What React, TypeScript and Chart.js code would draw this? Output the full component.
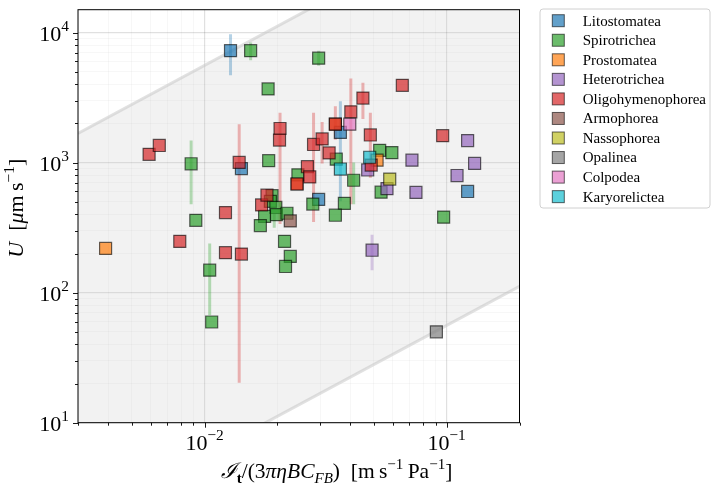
import React, { useEffect, useRef } from 'react';
import { Chart, registerables } from 'chart.js';

Chart.register(...registerables);

const FONT = '"Liberation Serif", "DejaVu Serif", serif';

const classNames = [
  'Litostomatea', 'Spirotrichea', 'Prostomatea', 'Heterotrichea', 'Oligohymenophorea',
  'Armophorea', 'Nassophorea', 'Opalinea', 'Colpodea', 'Karyorelictea',
];
const classRGB = [
  '31,119,180', '44,160,44', '255,127,14', '148,103,189', '214,39,40',
  '140,86,75', '188,189,34', '127,127,127', '227,119,194', '23,190,207',
];

// Litostomatea
const litostomateaX = [0.0128, 0.0142, 0.0364, 0.0296, 0.1221];
const litostomateaY = [7260, 900, 1707, 521, 600];
// Spirotrichea
const spirotricheaX = [0.0155, 0.0296, 0.0183, 0.0088, 0.0184, 0.0243, 0.0190, 0.0187, 0.0197, 0.0177,
  0.0198, 0.0219, 0.0170, 0.0092, 0.0105, 0.0107, 0.0214, 0.0226, 0.0216, 0.0280,
  0.0378, 0.0347, 0.0350, 0.0413, 0.0529, 0.0594, 0.0536, 0.0972];
const spirotricheaY = [7260, 6360, 3690, 980, 1035, 805, 557, 504, 452, 386,
  398, 408, 328, 360, 149, 59.5, 248, 190, 159, 480,
  486, 394, 1063, 732, 1243, 1194, 593, 381];
// Prostomatea
const prostomateaX = [0.0039, 0.0516, 0.0347, 0.0241];
const prostomateaY = [219, 1044, 1975, 685];
// Heterotrichea
const heterotricheaX = [0.0472, 0.0567, 0.0719, 0.0747, 0.1104, 0.1221, 0.1305, 0.0492];
const heterotricheaY = [878, 631, 1044, 590, 796, 1478, 986, 212];
// Oligohymenophorea
const oligohymenophoreaX = [0.0059, 0.0065, 0.0079, 0.0122, 0.0122, 0.0142, 0.0139, 0.0205, 0.0204, 0.0172,
  0.0181, 0.0241, 0.0266, 0.0272, 0.0282, 0.0306, 0.0327, 0.0347, 0.0402, 0.0451,
  0.0484, 0.0488, 0.0656, 0.0963];
const oligohymenophoreaY = [1159, 1355, 248, 413, 203, 198, 1003, 1830, 1491, 473,
  562, 685, 930, 777, 1379, 1522, 1188, 1975, 2458, 3135,
  1632, 957, 3929, 1612];
// Armophorea
const armophoreaX = [0.0226];
const armophoreaY = [356];
// Nassophorea
const nassophoreaX = [0.0582];
const nassophoreaY = [747];
// Opalinea
const opalineaX = [0.0907];
const opalineaY = [50];
// Colpodea
const colpodeaX = [0.0398];
const colpodeaY = [1975];
// Karyorelictea
const karyorelicteaX = [0.0364, 0.0481];
const karyorelicteaY = [893, 1100];

const seriesX = [litostomateaX, spirotricheaX, prostomateaX, heterotricheaX, oligohymenophoreaX,
  armophoreaX, nassophoreaX, opalineaX, colpodeaX, karyorelicteaX];
const seriesY = [litostomateaY, spirotricheaY, prostomateaY, heterotricheaY, oligohymenophoreaY,
  armophoreaY, nassophoreaY, opalineaY, colpodeaY, karyorelicteaY];

// Error bars (vertical ranges)
const errX = [0.0128, 0.0155, 0.0296, 0.0088, 0.0105, 0.0413, 0.0194, 0.0492, 0.0139, 0.0205,
  0.0282, 0.0306, 0.0347, 0.0402, 0.0451, 0.0484, 0.0364];
const errLo = [4706, 6138, 5550, 478, 67, 478, 315, 149, 20.3, 338,
  350, 986, 1500, 478, 2166, 764, 504];
const errHi = [9692, 8390, 7250, 1478, 239, 1003, 402, 279, 1975, 2424,
  2424, 2056, 2716, 4436, 4118, 2424, 2960];
const errClass = [0, 1, 1, 1, 1, 1, 1, 3, 4, 4,
  4, 4, 4, 4, 4, 4, 0];

// Shaded band bounds
const boundX = [0.003, 0.2];
const upperBoundY = [1680, 112000];
const lowerBoundY = [1.68, 112];

// Axes
const xMin = 0.003, xMax = 0.2;
const yMin = 10, yMax = 15000;
const xMajorTicks = [0.01, 0.1];
const xMajorLabels = [['10', '−2'], ['10', '−1']];
const yMajorTicks = [10, 100, 1000, 10000];
const yMajorLabels = [['10', '1'], ['10', '2'], ['10', '3'], ['10', '4']];

function logTicks(min: number, max: number) {
  const out: number[] = [];
  for (let e = Math.floor(Math.log10(min)); e <= Math.ceil(Math.log10(max)); e++) {
    for (let k = 1; k <= 9; k++) {
      const v = parseFloat((k * Math.pow(10, e)).toPrecision(4));
      if (v >= min * 0.9999 && v <= max * 1.0001) out.push(v);
    }
  }
  return out;
}
const isMajorVal = (v: number) => Math.abs(Math.log10(v) - Math.round(Math.log10(v))) < 1e-6;

type Seg = { t: string; it?: boolean; b?: boolean; sub?: boolean; sup?: boolean };

function segFont(s: Seg, size: number) {
  const sz = s.sub || s.sup ? size * 0.7 : size;
  return `${s.it ? 'italic ' : ''}${s.b ? 'bold ' : ''}${sz}px ${FONT}`;
}
function drawRich(ctx: CanvasRenderingContext2D, segs: Seg[], x: number, y: number, size: number, align: string) {
  let total = 0;
  segs.forEach((s) => { ctx.font = segFont(s, size); total += ctx.measureText(s.t).width; });
  let cx = align === 'center' ? x - total / 2 : align === 'right' ? x - total : x;
  ctx.textAlign = 'left';
  ctx.textBaseline = 'alphabetic';
  segs.forEach((s) => {
    ctx.font = segFont(s, size);
    const dy = s.sup ? -size * 0.42 : s.sub ? size * 0.22 : 0;
    ctx.fillText(s.t, cx, y + dy);
    cx += ctx.measureText(s.t).width;
  });
  return total;
}

const xTitle: Seg[] = [
  { t: 'ℐ', it: true }, { t: 't', b: true, sub: true }, { t: '/(3' }, { t: 'πηBC', it: true },
  { t: 'FB', it: true, sub: true }, { t: ')  [m\u2009s' }, { t: '−1', sup: true }, { t: '\u2009Pa' }, { t: '−1', sup: true }, { t: ']' },
];
const yTitle: Seg[] = [
  { t: 'U', it: true }, { t: '  [' }, { t: 'μ', it: true }, { t: 'm\u2009s' }, { t: '−1', sup: true }, { t: ']' },
];

const customPlugin = {
  id: 'customDecor',
  beforeDatasetsDraw(chart: any) { chart.$errDrawn = false; },
  beforeDatasetDraw(chart: any, args: any) {
    const ds = chart.data.datasets[args.index];
    if (ds.isBound || chart.$errDrawn) return;
    chart.$errDrawn = true;
    const ctx = chart.ctx as CanvasRenderingContext2D;
    const xs = chart.scales.x, ys = chart.scales.y, a = chart.chartArea;
    ctx.save();
    ctx.beginPath();
    ctx.rect(a.left, a.top, a.right - a.left, a.bottom - a.top);
    ctx.clip();
    ctx.lineWidth = 3;
    for (let i = 0; i < errX.length; i++) {
      const px = xs.getPixelForValue(errX[i]);
      ctx.strokeStyle = `rgba(${classRGB[errClass[i]]},0.33)`;
      ctx.beginPath();
      ctx.moveTo(px, ys.getPixelForValue(errLo[i]));
      ctx.lineTo(px, ys.getPixelForValue(errHi[i]));
      ctx.stroke();
    }
    ctx.restore();
  },
  afterDraw(chart: any) {
    const ctx = chart.ctx as CanvasRenderingContext2D;
    const xs = chart.scales.x, ys = chart.scales.y, a = chart.chartArea;
    ctx.save();
    // frame
    ctx.strokeStyle = '#000';
    ctx.lineWidth = 1;
    ctx.strokeRect(a.left, a.top, a.right - a.left, a.bottom - a.top);
    // tick marks
    ctx.beginPath();
    xs.ticks.forEach((t: any) => {
      const px = Math.round(xs.getPixelForValue(t.value)) + 0.5;
      const len = t.major ? 5 : 3;
      ctx.moveTo(px, a.bottom);
      ctx.lineTo(px, a.bottom + len);
    });
    ys.ticks.forEach((t: any) => {
      const py = Math.round(ys.getPixelForValue(t.value)) + 0.5;
      const len = t.major ? 5 : 3;
      ctx.moveTo(a.left, py);
      ctx.lineTo(a.left - len, py);
    });
    ctx.lineWidth = 0.9;
    ctx.stroke();
    ctx.fillStyle = '#000';
    // tick labels
    xMajorTicks.forEach((v, i) => {
      const px = xs.getPixelForValue(v);
      drawRich(ctx, [{ t: xMajorLabels[i][0] }, { t: xMajorLabels[i][1], sup: true }], px, a.bottom + 27, 22, 'center');
    });
    yMajorTicks.forEach((v, i) => {
      const py = ys.getPixelForValue(v);
      drawRich(ctx, [{ t: yMajorLabels[i][0] }, { t: yMajorLabels[i][1], sup: true }], a.left - 9, py + 8, 22, 'right');
    });
    // axis titles
    drawRich(ctx, xTitle, 336.5, 478, 21.5, 'center');
    ctx.save();
    ctx.translate(23, (a.top + a.bottom) / 2 - 8);
    ctx.rotate(-Math.PI / 2);
    drawRich(ctx, yTitle, 0, 0, 22, 'center');
    ctx.restore();
    // legend
    const lx = 540, ly = 9, lw = 170, lh = 199;
    ctx.beginPath();
    const r = 3;
    ctx.moveTo(lx + r, ly);
    ctx.arcTo(lx + lw, ly, lx + lw, ly + lh, r);
    ctx.arcTo(lx + lw, ly + lh, lx, ly + lh, r);
    ctx.arcTo(lx, ly + lh, lx, ly, r);
    ctx.arcTo(lx, ly, lx + lw, ly, r);
    ctx.closePath();
    ctx.fillStyle = 'rgba(255,255,255,0.85)';
    ctx.fill();
    ctx.strokeStyle = '#d0d0d0';
    ctx.lineWidth = 1;
    ctx.stroke();
    classNames.forEach((name, i) => {
      const cy = 20.7 + i * 19.55;
      ctx.fillStyle = `rgba(${classRGB[i]},0.7)`;
      ctx.fillRect(552.3, cy - 6, 12, 12);
      ctx.strokeStyle = 'rgba(0,0,0,0.6)';
      ctx.lineWidth = 1;
      ctx.strokeRect(552.3, cy - 6, 12, 12);
      ctx.fillStyle = '#000';
      ctx.font = `15px ${FONT}`;
      ctx.textAlign = 'left';
      ctx.textBaseline = 'middle';
      ctx.fillText(name, 582.7, cy + 1);
    });
    ctx.restore();
  },
};

export default function App() {
  const ref = useRef<HTMLCanvasElement | null>(null);
  useEffect(() => {
    if (!ref.current) return;
    const xTickVals = logTicks(xMin, xMax);
    const yTickVals = logTicks(yMin, yMax);
    const scatterSets = classNames.map((name, i) => ({
      type: 'scatter' as const,
      label: name,
      data: seriesX[i].map((x, j) => ({ x, y: seriesY[i][j] })),
      pointStyle: 'rect',
      pointRadius: 8.5,
      backgroundColor: `rgba(${classRGB[i]},0.7)`,
      borderColor: 'rgba(0,0,0,0.6)',
      borderWidth: 1.2,
      order: 20 - i,
    }));
    const bandColor = 'rgba(200,200,200,0.55)';
    const datasets: any[] = [
      ...scatterSets,
      {
        type: 'line', label: 'upper', isBound: true,
        data: boundX.map((x, j) => ({ x, y: upperBoundY[j] })),
        borderColor: bandColor, borderWidth: 3, pointRadius: 0,
        fill: '+1', backgroundColor: 'rgba(190,190,190,0.2)', order: 50,
      },
      {
        type: 'line', label: 'lower', isBound: true,
        data: boundX.map((x, j) => ({ x, y: lowerBoundY[j] })),
        borderColor: bandColor, borderWidth: 3, pointRadius: 0, fill: false, order: 51,
      },
    ];
    const gridColor = (c: any) => (c.tick && c.tick.major ? 'rgba(0,0,0,0.12)' : 'rgba(0,0,0,0.045)');
    const gridWidth = (c: any) => (c.tick && c.tick.major ? 1.2 : 0.8);
    const chart = new Chart(ref.current, {
      type: 'scatter',
      data: { datasets },
      plugins: [customPlugin],
      options: {
        animation: false,
        responsive: false,
        devicePixelRatio: 1,
        events: [],
        layout: { padding: { left: 0, right: 193.5, top: 2.7, bottom: 0 } },
        plugins: { legend: { display: false }, tooltip: { enabled: false }, filler: { propagate: false } },
        scales: {
          x: {
            type: 'logarithmic', min: xMin, max: xMax,
            afterBuildTicks: (s: any) => { s.ticks = xTickVals.map((v) => ({ value: v, major: isMajorVal(v) })); },
            afterFit: (s: any) => { s.height = 69.3; },
            ticks: { display: false },
            grid: { color: gridColor, lineWidth: gridWidth, drawTicks: false },
            border: { display: false },
          },
          y: {
            type: 'logarithmic', min: yMin, max: yMax,
            afterBuildTicks: (s: any) => { s.ticks = yTickVals.map((v) => ({ value: v, major: isMajorVal(v) })); },
            afterFit: (s: any) => { s.width = 78; },
            ticks: { display: false },
            grid: { color: gridColor, lineWidth: gridWidth, drawTicks: false },
            border: { display: false },
          },
        },
      } as any,
    });
    return () => chart.destroy();
  }, []);
  return (
    <div style={{ position: 'fixed', left: 0, top: 0, width: 713, height: 492, background: '#fff' }}>
      <canvas ref={ref} width={713} height={492} style={{ width: 713, height: 492, display: 'block' }} />
    </div>
  );
}
